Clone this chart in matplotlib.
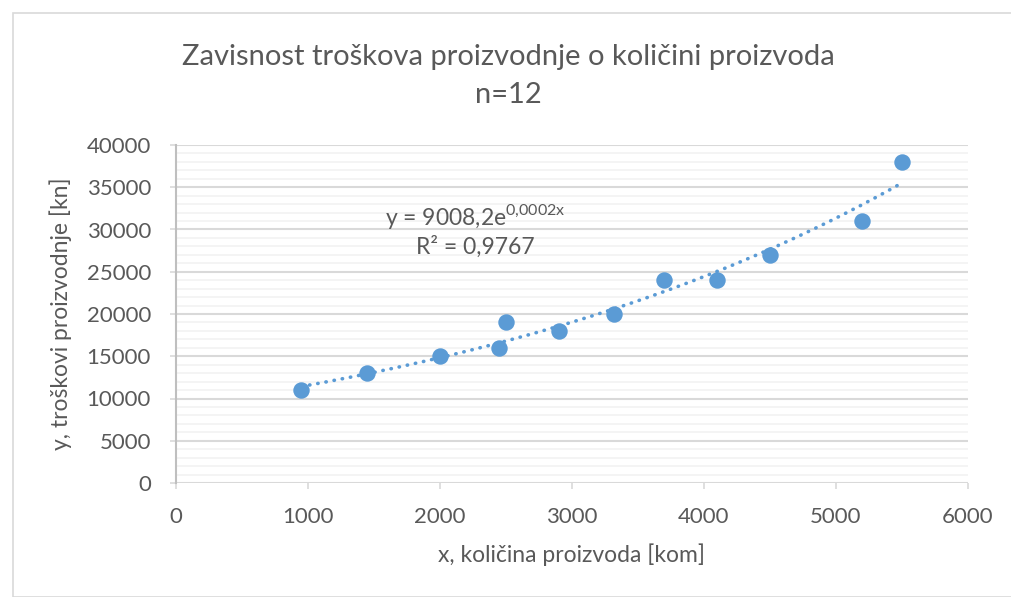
import numpy as np
import matplotlib.pyplot as plt
from matplotlib.patches import Rectangle
from matplotlib.ticker import MultipleLocator

plt.rcParams['font.family'] = ['Lato', 'DejaVu Sans']

x_kom = [950, 1450, 2000, 2450, 2500, 2900, 3320, 3700, 4100, 4500, 5200, 5500]
y_kn = [11000, 13000, 15000, 16000, 19000, 18000, 20000, 24000, 24000, 27000, 31000, 38000]

title_lines = ["Zavisnost troškova proizvodnje o količini proizvoda", "n=12"]
eq_text = r"y = 9008,2e$^{\mathregular{0{,}0002x}}$"
r2_text = "R² = 0,9767"

blue = '#5b9bd5'
grey_txt = '#595959'

fig = plt.figure(figsize=(10.11, 5.97), dpi=100)
fig.patches.append(Rectangle((13 / 1011, 0), 1.2, (597 - 13) / 597, transform=fig.transFigure,
                             fill=False, edgecolor='#d9d9d9', linewidth=1.2))
ax = fig.add_axes([176 / 1011, 114 / 597, 792 / 1011, 338 / 597])

# exponential trendline fitted on data
b, ln_a = np.polyfit(np.array(x_kom), np.log(np.array(y_kn)), 1)
xt = np.linspace(min(x_kom), max(x_kom), 200)
ax.plot(xt, np.exp(ln_a) * np.exp(b * xt), linestyle=(0, (0.1, 2.2)), dash_capstyle='round',
        color=blue, linewidth=2.6, zorder=2)
ax.scatter(x_kom, y_kn, s=140, color=blue, zorder=3, linewidths=0)

ax.set_xlim(0, 6000)
ax.set_ylim(0, 40000)
ax.xaxis.set_major_locator(MultipleLocator(1000))
ax.yaxis.set_major_locator(MultipleLocator(5000))
ax.yaxis.set_minor_locator(MultipleLocator(1000))
ax.grid(which='major', axis='y', color='#d9d9d9', linewidth=1.5)
ax.grid(which='minor', axis='y', color='#f2f2f2', linewidth=1.2)
ax.set_axisbelow(True)
for s in ['top', 'right', 'bottom']:
    ax.spines[s].set_visible(False)
ax.spines['left'].set_color('#bfbfbf')
ax.spines['left'].set_linewidth(1.5)
ax.tick_params(which='major', length=4, width=1.2, color='#d9d9d9', labelsize=16,
               labelcolor=grey_txt)
ax.tick_params(axis='y', which='major', pad=14)
ax.tick_params(axis='x', which='major', pad=13)
ax.tick_params(which='minor', length=0)

ax.set_xlabel("x, količina proizvoda [kom]", fontsize=16.5, color=grey_txt, labelpad=12)
ax.set_ylabel("y, troškovi proizvodnje [kn]", fontsize=16.5, color=grey_txt)
ax.yaxis.set_label_coords(-0.131, 0.5)

fig.text(508 / 1011, 1 - 57 / 597, title_lines[0], ha='center', va='center', fontsize=21, color=grey_txt)
fig.text(508 / 1011, 1 - 95 / 597, title_lines[1], ha='center', va='center', fontsize=21, color=grey_txt)

ax.text(2270, 31500, eq_text, ha='center', va='center', fontsize=16.5, color=grey_txt)
ax.text(2270, 27900, r2_text, ha='center', va='center', fontsize=16.5, color=grey_txt)

fig.savefig('out.png', dpi=100)
